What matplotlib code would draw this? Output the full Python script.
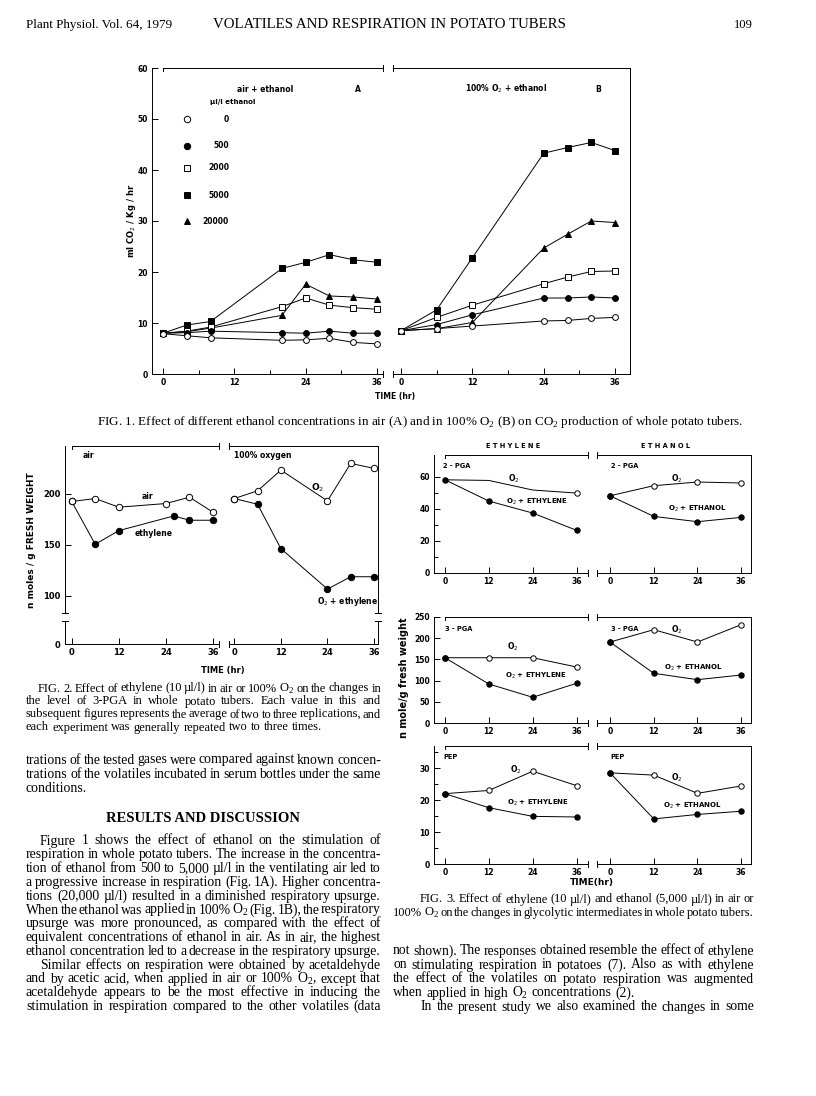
import matplotlib
matplotlib.use("Agg")
import matplotlib.pyplot as plt

# ---------------------------------------------------------------------------
# Data
# ---------------------------------------------------------------------------
# Fig 1A: air + ethanol (ml CO2/Kg/hr)
t1a = [0, 4, 8, 20, 24, 28, 32, 36]
a_0 = [7.9, 7.5, 7.1, 6.6, 6.7, 7.0, 6.2, 5.9]
a_500 = [8.0, 8.1, 8.4, 8.1, 8.0, 8.4, 8.0, 8.0]
a_2000 = [8.0, 8.4, 9.2, 13.2, 14.9, 13.5, 13.0, 12.7]
a_5000 = [8.0, 9.6, 10.3, 20.7, 21.9, 23.4, 22.4, 21.9]
a_20000 = [8.0, 8.3, 9.0, 11.5, 17.6, 15.3, 15.1, 14.7]

# Fig 1B: 100% O2 + ethanol
t1b = [0, 6, 12, 24, 28, 32, 36]
b_0 = [8.5, 8.9, 9.4, 10.4, 10.5, 10.9, 11.1]
b_500 = [8.5, 9.7, 11.6, 14.9, 14.9, 15.1, 14.9]
b_2000 = [8.5, 11.1, 13.5, 17.7, 19.0, 20.1, 20.2]
b_5000 = [8.5, 12.6, 22.8, 43.3, 44.4, 45.4, 43.8]
b_20000 = [8.5, 8.9, 10.1, 24.7, 27.4, 30.0, 29.7]

conc_labels = ["0", "500", "2000", "5000", "20000"]

# Fig 2: 3-PGA (n moles/g fresh weight)
t2_air = [0, 6, 12, 24, 30, 36]
air = [192.5, 195.4, 186.9, 190.5, 196.7, 182.0]
t2_eth = [0, 6, 12, 26, 30, 36]
air_eth = [192.5, 150.5, 163.9, 178.3, 174.1, 174.1]
t2_o2 = [0, 6, 12, 24, 30, 36]
o2 = [195.4, 203.0, 223.3, 193.1, 229.9, 225.0]
o2_eth = [195.4, 189.8, 146.2, 106.5, 118.6, 118.6]

# Fig 3: glycolytic intermediates
t3 = [0, 12, 24, 36]
pga2_o2 = [58.1, 57.7, 51.7, 49.8]
pga2_eth = [58.1, 44.8, 37.3, 26.5]
pga2_o2b = [48.1, 54.4, 56.7, 56.1]
pga2_etoh = [48.1, 35.2, 31.9, 34.6]
pga3_o2 = [153.8, 153.8, 153.8, 132.0]
pga3_eth = [153.8, 92.2, 61.0, 93.8]
pga3_o2b = [190.6, 219.5, 190.6, 231.3]
pga3_etoh = [190.6, 117.2, 102.3, 113.3]
pep_o2 = [22.0, 23.0, 29.0, 24.5]
pep_eth = [22.0, 17.6, 14.9, 14.7]
pep_o2b = [28.5, 27.8, 22.1, 24.4]
pep_etoh = [28.5, 14.1, 15.5, 16.5]

# ---------------------------------------------------------------------------
W, H = 816, 1096
SANS = "DejaVu Sans"
SERIF = "Liberation Serif"
plt.rcParams["font.family"] = SANS
plt.rcParams["mathtext.fontset"] = "custom"
plt.rcParams["mathtext.rm"] = SERIF
plt.rcParams["mathtext.sf"] = SANS

fig = plt.figure(figsize=(W / 100, H / 100), dpi=100)
fig.patch.set_facecolor("white")
rend = fig.canvas.get_renderer()
LW = 0.7


def box(l, t, r, b):
    ax = fig.add_axes([l / W, 1 - b / H, (r - l) / W, (b - t) / H])
    ax.patch.set_alpha(0)
    return ax


def ftext(x, y, s, **kw):
    return fig.text(x / W, 1 - y / H, s, **kw)


def lab(x, y, s, size=5.5, **kw):
    kw.setdefault("ha", "center")
    kw.setdefault("va", "center")
    return ftext(x, y, s, fontsize=size, fontweight="bold", family=SANS, **kw)


def frame(ax, xlim, ylim, spines, yt=(), ymin=(), xt=(0, 12, 24, 36), xmin=(), fs=5.5):
    ax.set_xlim(*xlim)
    ax.set_ylim(*ylim)
    for k, sp in ax.spines.items():
        sp.set_visible(k in spines)
        sp.set_linewidth(LW)
    ax.set_xticks(list(xt))
    ax.set_xticks(list(xmin), minor=True)
    ax.set_yticks(list(yt))
    ax.set_yticks(list(ymin), minor=True)
    ax.tick_params(which="both", direction="in", width=LW, labelsize=fs, pad=3)
    ax.tick_params(which="major", length=4)
    ax.tick_params(which="minor", length=3)
    for t in ax.get_xticklabels() + ax.get_yticklabels():
        t.set_fontweight("bold")


def top_bracket(ax, hpx, xend, bottom_mark=True):
    tr = ax.get_xaxis_transform()
    d = 3.0 / hpx
    kw = dict(transform=tr, color="k", lw=LW, clip_on=False)
    ax.plot([0, xend], [1, 1], **kw)
    ax.plot([0, 0], [1 - d, 1], **kw)
    ax.plot([xend, xend], [1 - d, 1 + d], **kw)
    if bottom_mark:
        ax.plot([xend, xend], [-d, d], **kw)


def left_marks(ax, hpx, xstart, top=True, bottom=True):
    tr = ax.get_xaxis_transform()
    d = 3.0 / hpx
    kw = dict(transform=tr, color="k", lw=LW, clip_on=False)
    if top:
        ax.plot([xstart, xstart], [1 - d, 1 + d], **kw)
    if bottom:
        ax.plot([xstart, xstart], [-d, d], **kw)


def ycap(ax, wpx, xa, ya):
    d = 3.0 / wpx
    ax.plot([xa - d, xa + d], [ya, ya], transform=ax.transAxes, color="k", lw=LW, clip_on=False)


def series(ax, x, y, marker, filled, ms=4.2, **kw):
    ax.plot(x, y, color="k", lw=LW, marker=marker, ms=ms, mew=LW,
            mfc="k" if filled else "white", mec="k", clip_on=False, **kw)


def measure(s, size, family=SERIF, weight="normal"):
    t = ftext(0, 0, s, fontsize=size, family=family, fontweight=weight)
    w = t.get_window_extent(rend).width
    t.remove()
    return w


def block(lines, x1, size_max, mingap=1.6):
    """lines: (baseline_y, x0, justified, text). Picks one font size for the
    block so every justified line fits with at least `mingap` px between words."""
    size = size_max
    for yb, x0, full, s in lines:
        if not full:
            continue
        words = s.split(" ")
        tot = sum(measure(w, 10) for w in words)
        room = x1 - x0 - mingap * (len(words) - 1)
        size = min(size, 10 * room / tot)
    for yb, x0, full, s in lines:
        words = s.split(" ")
        ts = [ftext(0, yb, w, fontsize=size, family=SERIF, va="baseline") for w in words]
        ws = [t.get_window_extent(rend).width for t in ts]
        if full and len(words) > 1:
            gap = (x1 - x0 - sum(ws)) / (len(words) - 1)
        else:
            gap = size * 0.25 * 100 / 72
        x = x0
        for t, w in zip(ts, ws):
            t.set_x(x / W)
            x += w + gap
    return size


def fit(x0, x1, yb, s, family=SERIF, base=10):
    t = ftext(x0, yb, s, fontsize=base, family=family, va="baseline")
    w = t.get_window_extent(rend).width
    t.set_fontsize(base * (x1 - x0) / w)
    return t


# ---------------------------------------------------------------------------
# Header
# ---------------------------------------------------------------------------
fit(26, 173, 28, "Plant Physiol. Vol. 64, 1979")
fit(213, 567, 28, "VOLATILES AND RESPIRATION IN POTATO TUBERS")
fit(734, 753, 28, "109")

# ---------------------------------------------------------------------------
# Figure 1
# ---------------------------------------------------------------------------
styles = [("o", False), ("o", True), ("s", False), ("s", True), ("^", True)]
order = [4, 3, 2, 1, 0]

axA = box(152, 68, 383, 374)
frame(axA, (-1.85, 37.0), (0, 60), ["left", "bottom"], yt=range(0, 61, 10),
      xt=(0, 12, 24, 36), xmin=(6, 18, 30))
top_bracket(axA, 306, 37.0)
ya = [a_0, a_500, a_2000, a_5000, a_20000]
for i in order:
    series(axA, t1a, ya[i], styles[i][0], styles[i][1])

axB = box(393, 68, 630, 374)
frame(axB, (-1.35, 38.5), (0, 60), ["top", "right", "bottom"],
      xt=(0, 12, 24, 36), xmin=(6, 18, 30))
left_marks(axB, 306, -1.35)
yb = [b_0, b_500, b_2000, b_5000, b_20000]
for i in order:
    series(axB, t1b, yb[i], styles[i][0], styles[i][1])

# legend keys
key_y = [119, 146, 168, 195, 221]
for (m, f), ky, txt in zip(styles, key_y, conc_labels):
    axA.plot([(187 - 152) / 231], [1 - (ky - 68) / 306], transform=axA.transAxes,
             marker=m, ms=4.6, mew=LW, mfc="k" if f else "white", mec="k", color="k")
    lab(229, ky, txt, ha="right")
lab(265, 89, "air + ethanol")
lab(358, 89, "A")
lab(233, 102, "µl/l ethanol", size=5)
lab(506, 89, r"100% O$_\mathsf{2}$ + ethanol")
lab(598, 89, "B")
lab(132, 221, r"ml CO$_\mathsf{2}$ / Kg / hr", size=6, rotation=90)
lab(395, 397, "TIME (hr)", size=5.5)
fit(97, 741, 424.5,
    "FIG. 1. Effect of different ethanol concentrations in air (A) and in 100% "
    "O$_2$ (B) on CO$_2$ production of whole potato tubers.")

# ---------------------------------------------------------------------------
# Figure 2
# ---------------------------------------------------------------------------
lx = (-1.7, 37.6)
rx = (-1.29, 37.1)
ax2a = box(65, 446, 219.3, 613)
frame(ax2a, lx, (83, 247), ["left"], yt=(100, 150, 200), xt=(), fs=6)
top_bracket(ax2a, 167, lx[1], bottom_mark=False)
ycap(ax2a, 154, 0, 0)
ax2b = box(65, 621, 219.3, 644)
frame(ax2b, lx, (0, 22.6), ["left", "bottom"], yt=(0,), fs=6)
ycap(ax2b, 154, 0, 1)
d = 3.0 / 23
ax2b.plot([lx[1], lx[1]], [-d, d], transform=ax2b.get_xaxis_transform(), color="k", lw=LW, clip_on=False)

ax2c = box(229.3, 446, 378.3, 613)
frame(ax2c, rx, (83, 247), ["top", "right"], xt=(), fs=6)
left_marks(ax2c, 167, rx[0], bottom=False)
ycap(ax2c, 149, 1, 0)
ax2d = box(229.3, 621, 378.3, 644)
frame(ax2d, rx, (0, 22.6), ["right", "bottom"], fs=6)
ycap(ax2d, 149, 1, 1)
ax2d.plot([rx[0], rx[0]], [-d, d], transform=ax2d.get_xaxis_transform(), color="k", lw=LW, clip_on=False)

series(ax2a, t2_eth, air_eth, "o", True, ms=4.6)
series(ax2a, t2_air, air, "o", False, ms=4.6)
series(ax2c, t2_o2, o2_eth, "o", True, ms=4.6)
series(ax2c, t2_o2, o2, "o", False, ms=4.6)

lab(88, 455, "air")
lab(263, 455, "100% oxygen")
lab(147, 497, "air")
lab(154, 534, "ethylene")
lab(318, 488, r"O$_\mathsf{2}$", size=6.5)
lab(348, 602, r"O$_\mathsf{2}$ + ethylene")
lab(32, 540, "n moles / g FRESH WEIGHT", size=6.5, rotation=90)
lab(223, 671, "TIME (hr)", size=6)

# ---------------------------------------------------------------------------
# Figure 3
# ---------------------------------------------------------------------------
cols = [(434.3, 588.3, (-2.9, 39.2)), (597.3, 751.0, (-3.5, 38.7))]
rows = [
    (455.0, 572.7, 73.6, (0, 20, 40, 60), (10, 30, 50),
     [(pga2_o2, pga2_eth), (pga2_o2b, pga2_etoh)]),
    (616.7, 723.3, 250, (0, 50, 100, 150, 200, 250), (),
     [(pga3_o2, pga3_eth), (pga3_o2b, pga3_etoh)]),
    (746.0, 864.0, 36.9, (0, 10, 20, 30), (5, 15, 25, 35),
     [(pep_o2, pep_eth), (pep_o2b, pep_etoh)]),
]
for ri, (top, bot, ymax, yt, ymn, pairs) in enumerate(rows):
    for ci, (l, r, xl) in enumerate(cols):
        ax = box(l, top, r, bot)
        hpx = bot - top
        if ci == 0:
            frame(ax, xl, (0, ymax), ["left", "bottom"], yt=yt, ymin=ymn)
            top_bracket(ax, hpx, xl[1])
        else:
            frame(ax, xl, (0, ymax), ["top", "right", "bottom"])
            left_marks(ax, hpx, xl[0])
        ctrl, trt = pairs[ci]
        if ri == 0 and ci == 0:
            series(ax, t3, ctrl, "o", False, ms=3.9, markevery=[3])
        else:
            series(ax, t3, ctrl, "o", False, ms=3.9)
        series(ax, t3, trt, "o", True, ms=3.9)

lab(513, 446, "E T H Y L E N E", size=4.8)
lab(666, 446, "E T H A N O L", size=4.8)
lab(443, 466, "2 - PGA", size=4.8, ha="left")
lab(611, 466, "2 - PGA", size=4.8, ha="left")
lab(514, 479, r"O$_\mathsf{2}$", size=5.5)
lab(537, 502, r"O$_\mathsf{2}$ + ETHYLENE", size=5)
lab(677, 479, r"O$_\mathsf{2}$", size=5.5)
lab(697, 509, r"O$_\mathsf{2}$ + ETHANOL", size=5)
lab(445, 629, "3 - PGA", size=4.8, ha="left")
lab(611, 629, "3 - PGA", size=4.8, ha="left")
lab(513, 647, r"O$_\mathsf{2}$", size=5.5)
lab(536, 676, r"O$_\mathsf{2}$ + ETHYLENE", size=5)
lab(677, 630, r"O$_\mathsf{2}$", size=5.5)
lab(693, 668, r"O$_\mathsf{2}$ + ETHANOL", size=5)
lab(443, 757, "PEP", size=4.8, ha="left")
lab(610, 757, "PEP", size=4.8, ha="left")
lab(516, 770, r"O$_\mathsf{2}$", size=5.5)
lab(538, 803, r"O$_\mathsf{2}$ + ETHYLENE", size=5)
lab(677, 778, r"O$_\mathsf{2}$", size=5.5)
lab(692, 806, r"O$_\mathsf{2}$ + ETHANOL", size=5)
lab(404, 678, "n mole/g fresh weight", size=7, rotation=90)
lab(592, 882, "TIME(hr)", size=6.5)

# ---------------------------------------------------------------------------
# Captions and body text
# ---------------------------------------------------------------------------
fig2_cap = [
    (691.5, 38, True, "FIG. 2. Effect of ethylene (10 µl/l) in air or 100% O$_2$ on the changes in"),
    (704.5, 26, True, "the level of 3-PGA in whole potato tubers. Each value in this and"),
    (717.5, 26, True, "subsequent figures represents the average of two to three replications, and"),
    (730.5, 26, False, "each experiment was generally repeated two to three times."),
]
block(fig2_cap, 381, 9.6)

left_body = [
    (763.5, 26, True, "trations of the tested gases were compared against known concen-"),
    (777.5, 26, True, "trations of the volatiles incubated in serum bottles under the same"),
    (791.5, 26, False, "conditions."),
    (844.5, 40, True, "Figure 1 shows the effect of ethanol on the stimulation of"),
    (858.3, 26, True, "respiration in whole potato tubers. The increase in the concentra-"),
    (872.1, 26, True, "tion of ethanol from 500 to 5,000 µl/l in the ventilating air led to"),
    (885.9, 26, True, "a progressive increase in respiration (Fig. 1A). Higher concentra-"),
    (899.7, 26, True, "tions (20,000 µl/l) resulted in a diminished respiratory upsurge."),
    (913.5, 26, True, "When the ethanol was applied in 100% O$_2$ (Fig. 1B), the respiratory"),
    (927.3, 26, True, "upsurge was more pronounced, as compared with the effect of"),
    (941.1, 26, True, "equivalent concentrations of ethanol in air. As in air, the highest"),
    (954.9, 26, True, "ethanol concentration led to a decrease in the respiratory upsurge."),
    (968.7, 40, True, "Similar effects on respiration were obtained by acetaldehyde"),
    (982.5, 26, True, "and by acetic acid, when applied in air or 100% O$_2$, except that"),
    (996.3, 26, True, "acetaldehyde appears to be the most effective in inducing the"),
    (1010.1, 26, True, "stimulation in respiration compared to the other volatiles (data"),
]
block(left_body, 381, 10.4)
ftext(203, 822, "RESULTS AND DISCUSSION", fontsize=10.5, family=SERIF,
      fontweight="bold", ha="center", va="baseline")

fig3_cap = [
    (902.5, 420, True, "FIG. 3. Effect of ethylene (10 µl/l) and ethanol (5,000 µl/l) in air or"),
    (916.0, 393, True, "100% O$_2$ on the changes in glycolytic intermediates in whole potato tubers."),
]
block(fig3_cap, 754, 9.6)

right_body = [
    (954.5, 393, True, "not shown). The responses obtained resemble the effect of ethylene"),
    (968.5, 393, True, "on stimulating respiration in potatoes (7). Also as with ethylene"),
    (982.5, 393, True, "the effect of the volatiles on potato respiration was augmented"),
    (996.5, 393, False, "when applied in high O$_2$ concentrations (2)."),
    (1010.5, 421, True, "In the present study we also examined the changes in some"),
]
block(right_body, 754, 10.4, mingap=2.8)

fig.savefig("out.png", dpi=100, facecolor="white")
